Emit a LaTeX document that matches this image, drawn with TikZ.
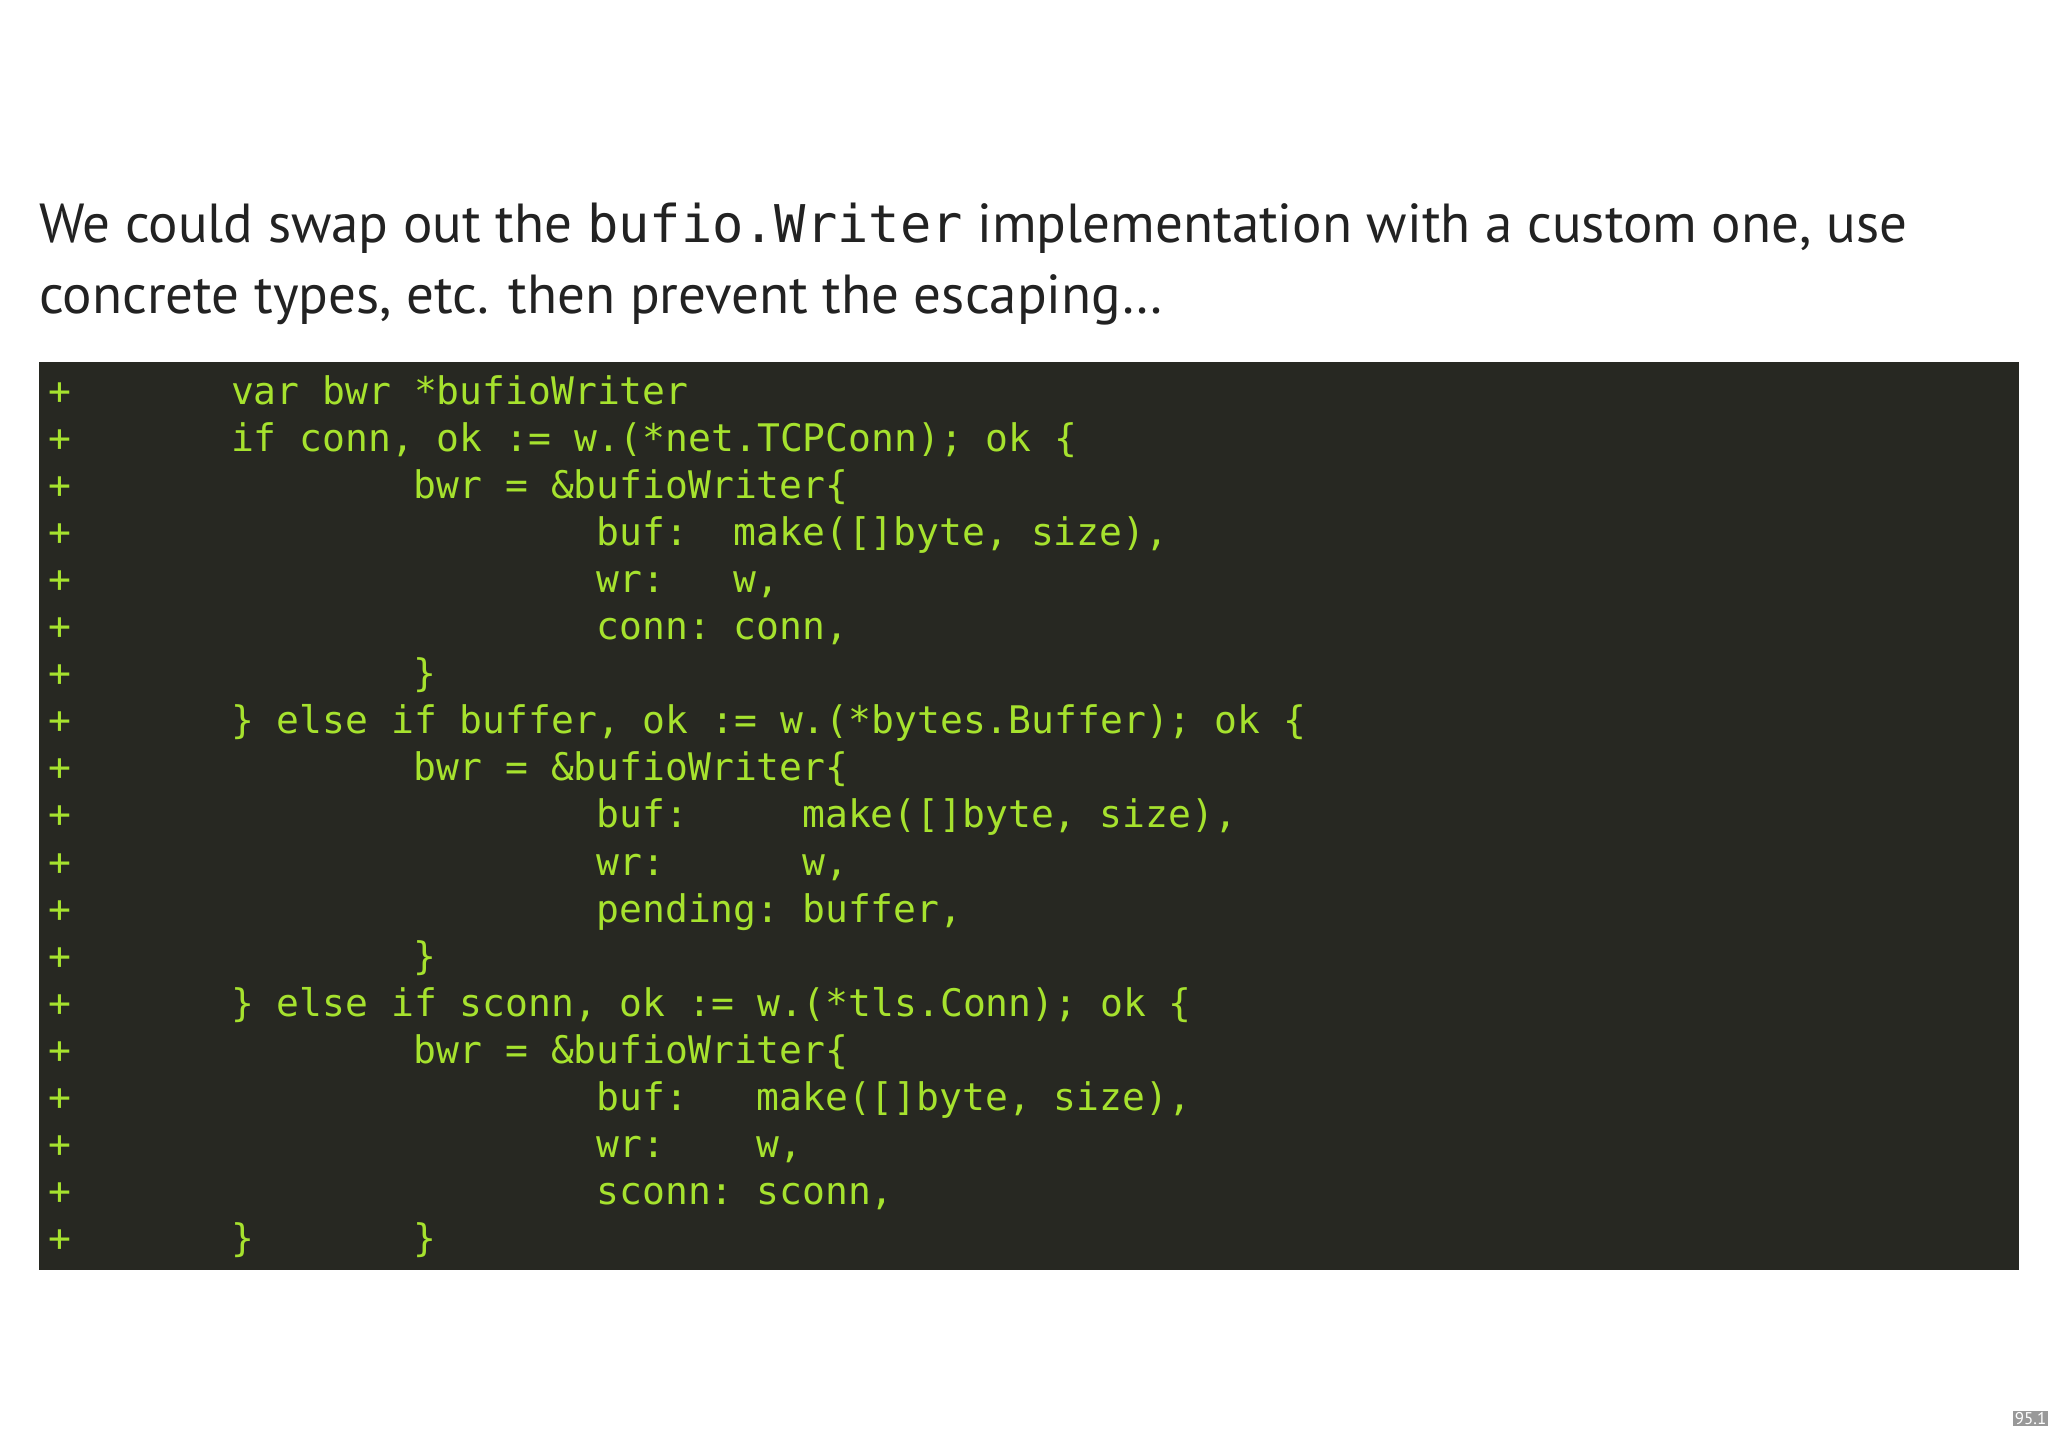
\documentclass[tikz,border=0pt]{standalone}
\usepackage{fontspec}
\setmainfont{PT Sans}
\newfontfamily\codefont{DejaVu Sans Mono}
\definecolor{codebg}{HTML}{272822}
\definecolor{codefg}{HTML}{A6E22E}
\definecolor{titlefg}{HTML}{222222}
\begin{document}
\begin{tikzpicture}[x=1pt,y=-1pt,
  codeln/.style={anchor=base west,inner sep=0pt,text=codefg,font=\codefont\fontsize{38}{38}\selectfont},
  titleln/.style={anchor=base west,inner sep=0pt,text=titlefg,font=\fontsize{55}{55}\selectfont}]
\useasboundingbox (0,0) rectangle (2048,1430);
\fill[white] (0,0) rectangle (2048,1430);
\node[titleln] (t1) at (39,242) {We could swap out the {\codefont\fontsize{52}{52}\selectfont bufio.Writer} implementation with a custom one, use};
\node[titleln] (t2) at (39,313) {concrete types, etc. then prevent the escaping\dots};
\fill[codebg] (39,362) rectangle (2019,1270);
\newcommand{\cw}{22.85}
\newcommand{\cl}[3]{\node[codeln] (c#1x#2) at ({48+#2*\cw},{404+(#1-1)*47.1}) {#3};}
\foreach \r in {1,...,19} {\node[codeln] (p\r) at (48,{404+(\r-1)*47.1}) {+};}
\cl{1}{8}{var bwr *bufioWriter}
\cl{2}{8}{if conn, ok := w.(*net.TCPConn); ok \{}
\cl{3}{16}{bwr = \&bufioWriter\{}
\cl{4}{24}{buf:}\cl{4}{30}{make([]byte, size),}
\cl{5}{24}{wr:}\cl{5}{30}{w,}
\cl{6}{24}{conn:}\cl{6}{30}{conn,}
\cl{7}{16}{\}}
\cl{8}{8}{\} else if buffer, ok := w.(*bytes.Buffer); ok \{}
\cl{9}{16}{bwr = \&bufioWriter\{}
\cl{10}{24}{buf:}\cl{10}{33}{make([]byte, size),}
\cl{11}{24}{wr:}\cl{11}{33}{w,}
\cl{12}{24}{pending:}\cl{12}{33}{buffer,}
\cl{13}{16}{\}}
\cl{14}{8}{\} else if sconn, ok := w.(*tls.Conn); ok \{}
\cl{15}{16}{bwr = \&bufioWriter\{}
\cl{16}{24}{buf:}\cl{16}{31}{make([]byte, size),}
\cl{17}{24}{wr:}\cl{17}{31}{w,}
\cl{18}{24}{sconn:}\cl{18}{31}{sconn,}
\cl{19}{16}{\}}
\cl{19}{8}{\}}
\node[fill=gray!80,text=white,inner sep=1.5pt,anchor=south east,font=\fontsize{17}{17}\selectfont] (pg) at (2048,1426) {95.1};
\end{tikzpicture}
\end{document}
